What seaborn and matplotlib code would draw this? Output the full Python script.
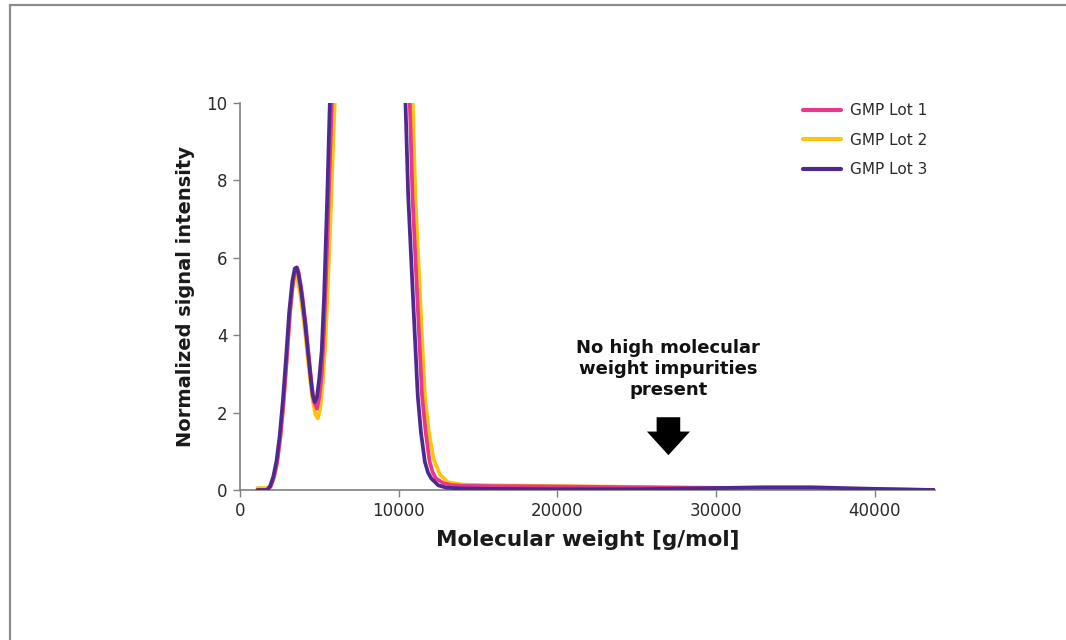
import numpy as np
import pandas as pd
import matplotlib
matplotlib.use("Agg")
import matplotlib.pyplot as plt
import seaborn as sns
from matplotlib.patches import Rectangle

# ---------------- data ----------------
series_names = ["GMP Lot 1", "GMP Lot 2", "GMP Lot 3"]

mw_lot1 = [1100, 1750, 1950, 2150, 2350, 2550, 2750, 2950, 3150, 3350, 3500, 3600, 3700,
           3850, 3950, 4150, 4350, 4500, 4650, 4850, 5000, 5150, 5300, 5450, 5650, 5850,
           6100, 7000, 8000, 9000, 10000, 10450, 10700, 10870, 11170, 11470, 11700, 11950,
           12150, 12350, 12800, 13300, 14000, 16000, 20000, 25000, 30000, 33000, 36000, 40000, 43800]
int_lot1 = [0.0, 0.0, 0.1, 0.35, 0.75, 1.4, 2.3, 3.4, 4.6, 5.4, 5.72, 5.75, 5.6,
            5.25, 4.95, 4.25, 3.4, 2.8, 2.3, 2.1, 2.4, 3.0, 4.2, 5.8, 8.3, 10.8,
            14.5, 27.0, 31.0, 28.0, 18.0, 12.5, 10.0, 7.6, 5.0, 2.45, 1.5, 0.73,
            0.45, 0.3, 0.18, 0.13, 0.11, 0.1, 0.09, 0.07, 0.05, 0.04, 0.03, 0.01, 0.0]

mw_lot2 = [1100, 1700, 1900, 2100, 2300, 2500, 2700, 2900, 3100, 3300, 3450, 3550, 3650,
           3800, 3950, 4150, 4350, 4550, 4750, 4910, 5050, 5200, 5350, 5500, 5650, 5850,
           6000, 6300, 7000, 8000, 9000, 10000, 10600, 10890, 11050, 11350, 11650, 11900,
           12200, 12600, 13100, 14000, 16000, 20000, 25000, 30000, 33000, 36000, 40000, 43800]
int_lot2 = [0.05, 0.05, 0.1, 0.25, 0.6, 1.2, 2.0, 3.1, 4.3, 5.2, 5.5, 5.55, 5.4,
            5.05, 4.6, 3.9, 3.1, 2.4, 1.95, 1.85, 2.1, 2.7, 3.6, 4.9, 6.4, 8.7,
            10.3, 14.5, 25.0, 31.0, 28.0, 19.0, 12.5, 10.0, 7.6, 5.0, 2.45, 1.5,
            0.8, 0.4, 0.2, 0.14, 0.12, 0.1, 0.08, 0.06, 0.04, 0.03, 0.02, 0.0]

mw_lot3 = [1100, 1700, 1900, 2100, 2300, 2500, 2700, 2900, 3100, 3300, 3450, 3550, 3650,
           3800, 3900, 4100, 4300, 4450, 4580, 4720, 4850, 5000, 5150, 5300, 5500, 5700,
           6000, 7000, 8000, 9000, 10000, 10200, 10430, 10600, 10900, 11200, 11400, 11650,
           11850, 12050, 12500, 13000, 14000, 16000, 20000, 25000, 30000, 33000, 36000, 40000, 43800]
int_lot3 = [0.0, 0.0, 0.1, 0.35, 0.75, 1.4, 2.3, 3.4, 4.6, 5.4, 5.72, 5.75, 5.65,
            5.3, 5.0, 4.3, 3.5, 2.9, 2.45, 2.27, 2.4, 2.9, 3.6, 5.0, 7.6, 10.6,
            15.0, 28.0, 32.0, 28.0, 17.0, 12.5, 10.0, 7.6, 5.0, 2.45, 1.5, 0.73,
            0.45, 0.3, 0.12, 0.06, 0.04, 0.03, 0.02, 0.02, 0.05, 0.07, 0.07, 0.03, 0.0]

x_ticks = [0, 10000, 20000, 30000, 40000]
y_ticks = [0, 2, 4, 6, 8, 10]
annotation_text = "No high molecular\nweight impurities\npresent"

# ---------------- build long table ----------------
frames = []
for name, xs, ys in zip(series_names, [mw_lot1, mw_lot2, mw_lot3],
                        [int_lot1, int_lot2, int_lot3]):
    frames.append(pd.DataFrame({"mw": xs, "intensity": ys, "lot": name}))
df = pd.concat(frames, ignore_index=True)

palette = {"GMP Lot 1": "#E8388E", "GMP Lot 2": "#FFC20E", "GMP Lot 3": "#4F2A8E"}

sns.set_style("white")
plt.rcParams["font.family"] = ["DejaVu Sans"]

fig = plt.figure(figsize=(10.66, 6.4), dpi=100)
ax = fig.add_axes([240 / 1066, 150 / 640, 695 / 1066, 387 / 640])

sns.lineplot(data=df, x="mw", y="intensity", hue="lot", hue_order=series_names,
             palette=palette, estimator=None, sort=True, linewidth=2.7, ax=ax)

# draw order: purple on top, then pink, then yellow
for line, z in zip(ax.get_lines()[:3], [3, 2, 4]):
    line.set_zorder(z)
    line.set_solid_capstyle("round")
    line.set_solid_joinstyle("round")

ax.set_xlim(0, 43800)
ax.set_ylim(0, 10)
ax.set_xticks(x_ticks)
ax.set_yticks(y_ticks)
ax.set_xticklabels([str(t) for t in x_ticks])
ax.set_yticklabels([str(t) for t in y_ticks])

for s in ["top", "right"]:
    ax.spines[s].set_visible(False)
for s in ["left", "bottom"]:
    ax.spines[s].set_color("#808080")
    ax.spines[s].set_linewidth(1.2)
ax.tick_params(axis="both", which="major", direction="out", length=5, width=1.0,
               color="#808080", labelsize=12, labelcolor="#2a2a2a", pad=4,
               bottom=True, left=True)

ax.set_xlabel("Molecular weight [g/mol]", fontsize=15.5, fontweight="bold",
              color="#1a1a1a", labelpad=7)
ax.set_ylabel("Normalized signal intensity", fontsize=14, fontweight="bold",
              color="#1a1a1a", labelpad=8)

leg = ax.legend(loc="upper left", bbox_to_anchor=(0.79, 1.035), frameon=False,
                fontsize=11, handlelength=2.5, labelspacing=0.95, handletextpad=0.6)
for h in leg.get_lines():
    h.set_linewidth(3)
for t in leg.get_texts():
    t.set_color("#2a2a2a")

ax.text(27000, 3.12, annotation_text, ha="center", va="center", fontsize=13,
        fontweight="bold", color="#111111", linespacing=1.2)
ax.annotate("", xy=(27000, 0.9), xytext=(27000, 1.88),
            arrowprops=dict(width=17, headwidth=31, headlength=17, shrink=0.0,
                            facecolor="black", edgecolor="black", lw=0))

# figure frame (top and left edges visible)
fig.add_artist(Rectangle((10 / 1066, -0.1), 1.2, (635 / 640) + 0.1,
                         transform=fig.transFigure, fill=False,
                         edgecolor="#8c8c8c", linewidth=1.6, clip_on=False))

fig.savefig("out.png", dpi=100)
